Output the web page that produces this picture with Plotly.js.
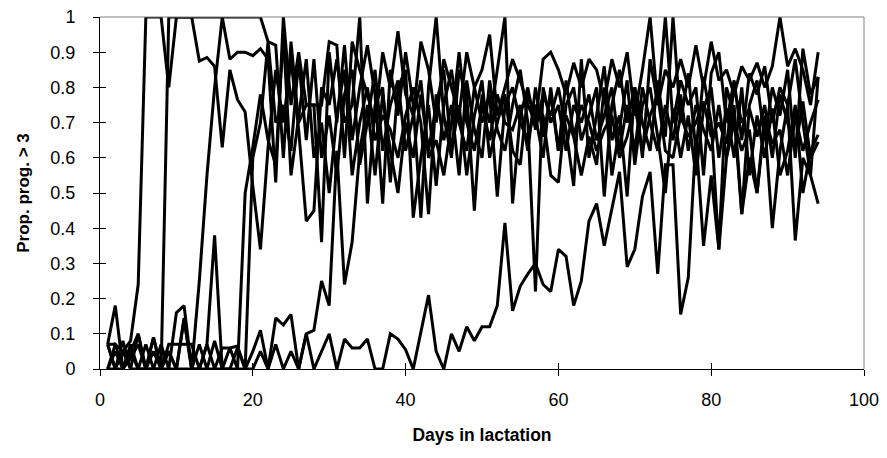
<!DOCTYPE html>
<html>
<head>
<meta charset="utf-8">
<script src="https://cdn.plot.ly/plotly-3.0.1.min.js"></script>
<style>html,body{margin:0;padding:0;background:#fff;}#chart{width:887px;height:458px;}</style>
</head>
<body>
<div id="chart"></div>
<script>
// Days in lactation (1..94)
const days = Array.from({length: 94}, (_, i) => i + 1);

// Proportion of progesterone > 3, one array per animal
const cowA = [0.07,0.00,0.05,0.08,0.24,1,1,1,0.80,1, 1,1,1,1,1,1,1,1,1,1,
  1,0.93,0.92,0.60,0.93,0.70,0.75,0.75,0.75,0.93, 0.92,0.60,0.93,0.85,0.78,0.70,0.90,0.80,0.96,0.78,
  0.72,0.93,0.85,0.70,0.88,0.80,0.72,0.90,0.80,0.85, 0.95,0.72,0.80,0.88,0.82,0.75,0.70,0.88,0.90,0.85,
  0.78,0.87,0.80,0.88,0.85,0.76,0.88,0.80,0.90,0.72, 0.85,1.00,0.75,0.85,0.80,0.88,0.80,0.92,0.80,0.93,
  0.82,0.85,0.78,0.86,0.82,0.87,0.80,0.86,1.00,0.86, 0.91,0.85,0.75,0.90];
const cowB = [0.07,0.18,0.00,0.05,0.00,0.00,0.09,0.00,1,1, 1,1,0.875,0.885,0.86,0.63,0.85,0.765,0.73,0.52,
  0.34,0.63,0.85,0.70,0.88,0.68,0.42,0.45,0.80,0.75, 0.88,0.70,0.75,1.00,0.47,0.75,0.80,0.53,0.80,0.85,
  0.43,0.60,0.75,0.52,0.75,0.85,0.70,0.62,0.80,0.70, 0.78,0.49,0.75,0.80,0.70,0.65,0.75,0.72,0.55,0.53,
  0.75,0.80,0.65,0.72,0.80,0.49,0.75,0.85,0.70,0.80, 0.60,0.88,0.75,1.00,0.70,0.82,0.75,0.80,0.55,0.84,
  0.90,0.70,0.82,0.65,0.84,0.78,0.86,0.70,0.80,0.75, 0.88,0.70,0.55,0.83];
const cowC = [0.00,0.07,0.05,0.00,0.10,0.00,0.00,0.07,0.00,0.16, 0.18,0.00,0.25,0.55,0.80,1.00,0.88,0.90,0.90,0.89,
  0.91,0.88,0.53,1.00,0.75,0.90,0.75,0.75,0.36,0.90, 0.70,0.92,0.65,0.80,0.92,0.78,0.47,0.85,0.72,0.90,
  0.75,0.43,0.80,1.00,0.72,0.60,0.85,0.78,0.45,0.78, 0.70,0.85,1.00,0.47,0.72,0.80,0.68,0.78,0.72,0.80,
  0.68,0.52,0.88,0.60,0.72,0.86,0.65,0.72,0.49,0.80, 0.70,0.62,0.82,0.66,1.00,0.70,0.84,0.62,0.83,0.70,
  0.34,0.80,0.72,0.44,0.75,0.82,0.65,0.80,0.72,0.85, 0.60,0.91,0.78,0.83];
const cowD = [0.00,0.00,0.08,0.00,0.00,0.07,0.00,0.00,0.07,0.07, 0.07,0.07,0.00,0.07,0.38,0.00,0.06,0.00,0.50,0.63,
  0.78,0.65,0.58,0.95,0.55,0.72,0.88,0.60,0.70,0.50, 0.72,0.85,0.55,0.70,0.80,0.65,0.72,0.68,0.60,0.72,
  0.80,0.70,0.44,0.78,0.65,0.75,0.55,0.82,0.68,0.60, 0.82,0.68,0.62,0.75,0.85,0.70,0.22,0.80,0.70,0.75,
  0.62,0.75,0.70,0.78,0.65,0.72,0.80,0.62,0.75,0.62, 0.80,0.70,0.62,0.75,0.65,0.78,0.62,0.75,0.68,0.62,
  0.75,0.60,0.70,0.62,0.68,0.50,0.72,0.64,0.68,0.55, 0.72,0.62,0.70,0.765];
const cowE = [0.07,0.00,0.00,0.07,0.00,0.00,0.00,0.00,0.05,0.00, 0.00,0.00,0.00,0.00,0.00,0.00,0.00,0.00,0.00,0.00,
  0.05,0.00,0.07,0.00,0.05,0.00,0.10,0.11,0.25,0.18, 0.62,0.24,0.36,0.62,0.75,0.55,0.78,0.62,0.50,0.70,
  0.60,0.78,0.62,0.75,0.85,0.62,0.75,0.55,0.72,0.82, 0.60,0.70,0.78,0.62,0.58,0.78,0.72,0.60,0.80,0.62,
  0.82,0.66,0.55,0.66,0.58,0.80,0.55,0.68,0.82,0.58, 0.75,0.80,0.66,0.50,0.74,0.60,0.72,0.55,0.74,0.80,
  0.60,0.74,0.60,0.80,0.55,0.72,0.60,0.74,0.55,0.62, 0.75,0.50,0.62,0.665];
const cowF = [0.00,0.05,0.00,0.05,0.10,0.00,0.09,0.00,0.05,0.00, 0.14,0.00,0.07,0.00,0.08,0.00,0.00,0.06,0.00,0.05,
  0.11,0.00,0.145,0.125,0.155,0.00,0.10,0.00,0.05,0.10, 0.00,0.085,0.06,0.06,0.085,0.00,0.00,0.10,0.085,0.055,
  0.00,0.10,0.21,0.05,0.00,0.10,0.05,0.12,0.08,0.12, 0.12,0.18,0.415,0.165,0.235,0.27,0.30,0.24,0.22,0.34,
  0.32,0.18,0.25,0.42,0.47,0.35,0.45,0.56,0.29,0.34, 0.49,0.56,0.27,0.58,0.58,0.155,0.26,0.66,0.35,0.55,
  0.34,0.60,0.75,0.44,0.60,0.50,0.70,0.40,0.62,0.75, 0.365,0.60,0.55,0.47];
const cowG = [0.07,0.07,0.00,0.03,0.07,0.00,0.05,0.00,0.00,0.00, 0.145,0.00,0.00,0.07,0.00,0.06,0.06,0.065,0.00,0.60,
  0.70,0.93,0.70,0.75,0.62,0.88,0.65,0.88,0.60,0.72, 0.55,0.78,0.85,0.58,0.70,0.85,0.62,0.75,0.82,0.62,
  0.72,0.82,0.60,0.65,0.55,0.70,0.90,0.70,0.62,0.75, 0.65,0.78,0.70,0.68,0.75,0.62,0.80,0.66,0.78,0.62,
  0.72,0.66,0.75,0.70,0.62,0.68,0.72,0.60,0.66,0.75, 0.62,0.72,0.78,0.62,0.60,0.72,0.66,0.70,0.76,0.66,
  0.70,0.64,0.80,0.70,0.74,0.66,0.75,0.60,0.78,0.70, 0.62,0.76,0.60,0.645];

const seriesNames = ['A','B','C','D','E','F','G'];
const seriesValues = [cowA, cowB, cowC, cowD, cowE, cowF, cowG];

const xTicks = [0, 20, 40, 60, 80, 100];
const yTicks = [0, 0.1, 0.2, 0.3, 0.4, 0.5, 0.6, 0.7, 0.8, 0.9, 1];

const traces = seriesValues.map((vals, i) => ({
  x: days, y: vals, type: 'scatter', mode: 'lines', name: seriesNames[i],
  line: {color: '#000000', width: 3}, hoverinfo: 'skip'
}));

const fam = 'Liberation Sans, Arial, sans-serif';
const tickFont = {family: fam, size: 18, color: '#000'};
const layout = {
  width: 887, height: 458,
  margin: {l: 100, r: 23, t: 17, b: 89},
  paper_bgcolor: '#fff', plot_bgcolor: '#fff',
  showlegend: false,
  xaxis: {
    range: [0, 100], tickvals: xTicks, ticktext: xTicks.map(String),
    ticks: 'outside', ticklen: 6, tickwidth: 1, tickcolor: '#000', ticklabelstandoff: 8,
    showline: true, linecolor: '#000', linewidth: 1, showgrid: false, zeroline: false,
    tickfont: tickFont,
    title: {text: 'Days in lactation', font: {family: fam, size: 17.5, color: '#000', weight: 'bold'}, standoff: 20}
  },
  yaxis: {
    range: [0, 1], tickvals: yTicks, ticktext: yTicks.map(String),
    ticks: 'outside', ticklen: 6, tickwidth: 1, tickcolor: '#000', ticklabelstandoff: 14,
    showline: true, linecolor: '#000', linewidth: 1, showgrid: false, zeroline: false,
    tickfont: tickFont,
    title: {text: 'Prop. prog. > 3', font: {family: fam, size: 17, color: '#000', weight: 'bold'}, standoff: 16}
  },
  xaxis2: {
    overlaying: 'x', anchor: 'y', side: 'bottom', range: [0, 100], tickvals: xTicks,
    ticks: 'inside', ticklen: 6, tickwidth: 1, tickcolor: '#000',
    showticklabels: false, showline: false, showgrid: false, zeroline: false
  },
  yaxis2: {
    overlaying: 'y', anchor: 'x', side: 'left', range: [0, 1], tickvals: yTicks,
    ticks: 'inside', ticklen: 6, tickwidth: 1, tickcolor: '#000',
    showticklabels: false, showline: false, showgrid: false, zeroline: false
  },
  shapes: [
    {type: 'line', xref: 'paper', yref: 'paper', x0: 0, x1: 1, y0: 1, y1: 1, line: {color: '#808080', width: 1}},
    {type: 'line', xref: 'paper', yref: 'paper', x0: 1, x1: 1, y0: 0, y1: 1, line: {color: '#808080', width: 1}}
  ]
};

// an invisible helper trace so the overlay axes are drawn
traces.push({x: [0], y: [0], xaxis: 'x2', yaxis: 'y2', type: 'scatter', mode: 'markers', marker: {opacity: 0}, hoverinfo: 'skip', showlegend: false});

Plotly.newPlot('chart', traces, layout, {staticPlot: true, displayModeBar: false});
</script>
</body>
</html>
